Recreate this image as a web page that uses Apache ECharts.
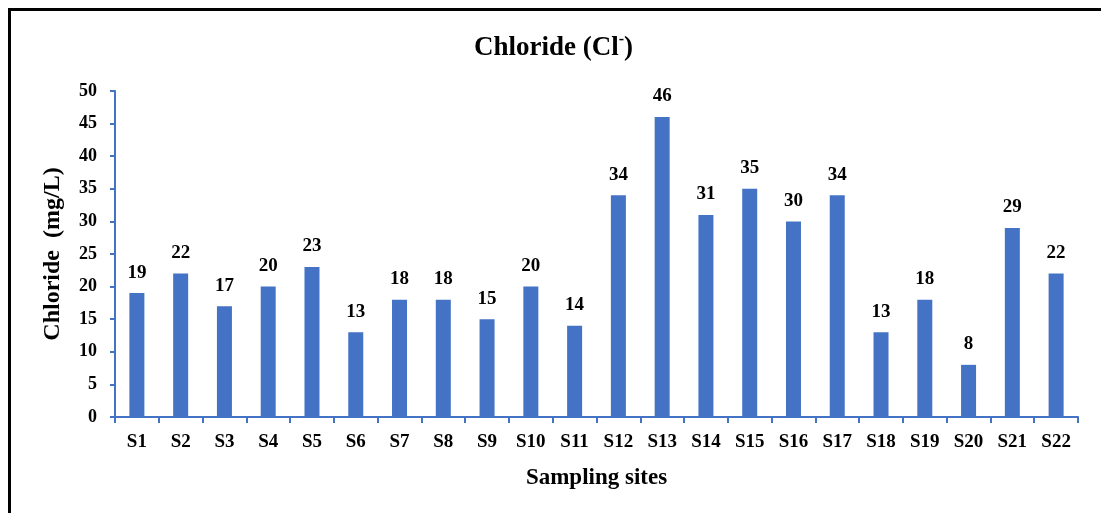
<!DOCTYPE html>
<html>
<head>
<meta charset="utf-8">
<script src="https://cdn.jsdelivr.net/npm/echarts@6/dist/echarts.min.js"></script>
<style>
  html, body { margin: 0; padding: 0; background: #fff; }
  #chart { width: 1101px; height: 513px; }
</style>
</head>
<body>
<div id="chart"></div>
<script>
// Sampling sites and measured chloride concentrations (mg/L)
const sites = ['S1','S2','S3','S4','S5','S6','S7','S8','S9','S10','S11',
               'S12','S13','S14','S15','S16','S17','S18','S19','S20','S21','S22'];
const chloride = [19, 22, 17, 20, 23, 13, 18, 18, 15, 20, 14,
                  34, 46, 31, 35, 30, 34, 13, 18, 8, 29, 22];
const yTicks = { min: 0, max: 50, interval: 5 };

const serif = '"Liberation Serif", "Times New Roman", serif';
const blue = '#4472C4';

const chart = echarts.init(document.getElementById('chart'), null, { renderer: 'canvas' });
chart.setOption({
  animation: false,
  backgroundColor: '#fff',
  title: {
    text: '{a|Chloride (Cl}{s|-}{a|)}',
    left: 469,
    top: 27,
    textStyle: {
      rich: {
        a: { fontFamily: serif, fontWeight: 'bold', fontSize: 27, color: '#000', lineHeight: 32 },
        s: { fontFamily: serif, fontWeight: 'bold', fontSize: 16, color: '#000', lineHeight: 20, verticalAlign: 'top' }
      }
    }
  },
  graphic: [{
    type: 'rect',
    shape: { x: 9.5, y: 9.5, width: 1100, height: 520 },
    style: { fill: 'none', stroke: '#000', lineWidth: 3 },
    silent: true
  }],
  grid: { left: 115, right: 23, top: 91, bottom: 96, containLabel: false },
  xAxis: {
    type: 'category',
    data: sites,
    name: 'Sampling sites',
    nameLocation: 'middle',
    nameGap: 50,
    nameTextStyle: { fontFamily: serif, fontWeight: 'bold', fontSize: 23, color: '#000' },
    axisLine: { lineStyle: { color: blue, width: 2 } },
    axisTick: { show: true, alignWithLabel: false, length: 6, lineStyle: { color: blue, width: 2 } },
    axisLabel: { fontFamily: serif, fontWeight: 'bold', fontSize: 19, color: '#000', margin: 16, interval: 0 },
    splitLine: { show: false }
  },
  yAxis: {
    type: 'value',
    min: yTicks.min,
    max: yTicks.max,
    interval: yTicks.interval,
    name: 'Chloride  (mg/L)',
    nameLocation: 'middle',
    nameGap: 50,
    nameTextStyle: { fontFamily: serif, fontWeight: 'bold', fontSize: 24, color: '#000' },
    axisLine: { show: true, lineStyle: { color: blue, width: 2 } },
    axisTick: { show: true, length: 5, lineStyle: { color: blue, width: 2 } },
    axisLabel: { fontFamily: serif, fontWeight: 'bold', fontSize: 18, color: '#000', margin: 18 },
    splitLine: { show: false }
  },
  series: [{
    type: 'bar',
    data: chloride,
    barWidth: 15,
    itemStyle: { color: blue },
    label: {
      show: true,
      position: 'top',
      distance: 11,
      fontFamily: serif,
      fontWeight: 'bold',
      fontSize: 19,
      color: '#000'
    }
  }]
});
</script>
</body>
</html>
